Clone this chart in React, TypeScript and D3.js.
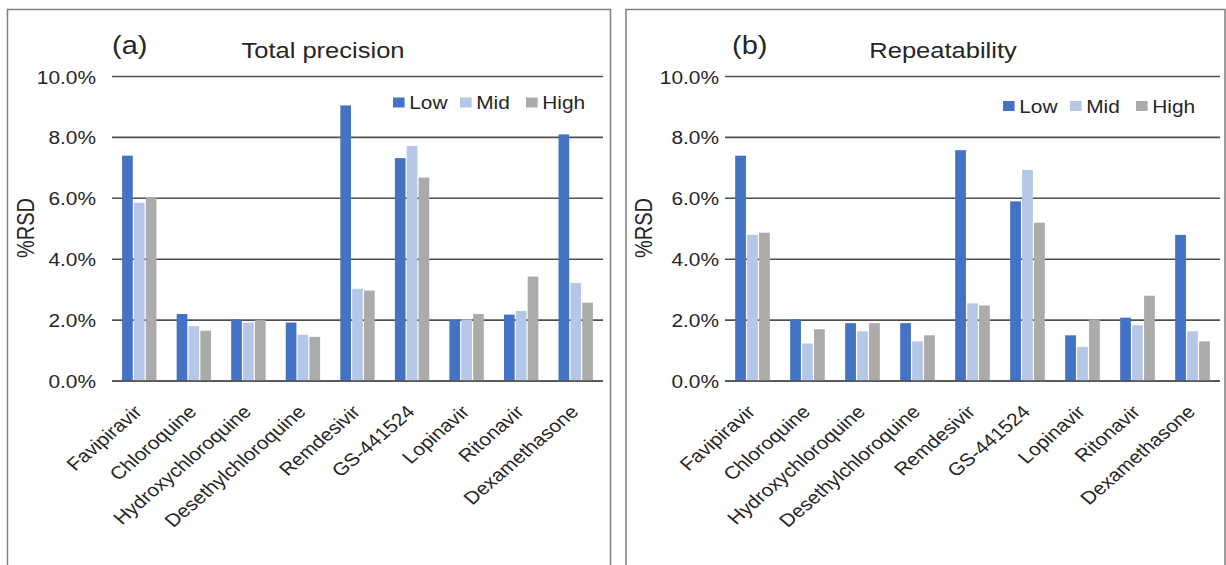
import * as d3 from "d3";

const CATEGORIES = [
  "Favipiravir",
  "Chloroquine",
  "Hydroxychloroquine",
  "Desethylchloroquine",
  "Remdesivir",
  "GS-441524",
  "Lopinavir",
  "Ritonavir",
  "Dexamethasone",
];
const SERIES = ["Low", "Mid", "High"];
const COLORS = ["#4472C4", "#B4C7E7", "#ABABAB"];

// (a) total precision, %RSD as fractions
const TOTAL_LOW = [0.074, 0.022, 0.0202, 0.0192, 0.0905, 0.0732, 0.02, 0.0218, 0.081];
const TOTAL_MID = [0.0585, 0.018, 0.0192, 0.0152, 0.0303, 0.0772, 0.0202, 0.023, 0.0322];
const TOTAL_HIGH = [0.0602, 0.0165, 0.02, 0.0145, 0.0297, 0.0668, 0.022, 0.0343, 0.0257];

// (b) repeatability
const REP_LOW = [0.074, 0.0202, 0.019, 0.019, 0.0758, 0.059, 0.015, 0.0208, 0.048];
const REP_MID = [0.048, 0.0123, 0.0163, 0.013, 0.0255, 0.0693, 0.0112, 0.0183, 0.0163];
const REP_HIGH = [0.0487, 0.017, 0.019, 0.015, 0.0248, 0.052, 0.0202, 0.028, 0.013];

const Y_TICKS = [0, 0.02, 0.04, 0.06, 0.08, 0.1];

const FONT = "'Liberation Sans', Arial, sans-serif";
const SX = 1.16; // source image is stretched horizontally
const TXT = "#262626";

type PanelProps = {
  box: [number, number];
  plot: [number, number];
  tickGap: number;
  tag: string;
  tagX: number;
  title: string;
  titleX: number;
  legendX: number;
  legendY: number;
  values: number[][];
};

function T({ x, y, anchor = "start", size, children, rotate = 0 }: any) {
  return (
    <g transform={`translate(${x},${y}) scale(${SX},1)`}>
      <text
        transform={rotate ? `rotate(${rotate})` : undefined}
        textAnchor={anchor}
        fontSize={size}
        fontFamily={FONT}
        fill={TXT}
      >
        {children}
      </text>
    </g>
  );
}

function Panel({ box, plot, tickGap, tag, tagX, title, titleX, legendX, legendY, values }: PanelProps) {
  const y = d3.scaleLinear().domain([0, 0.1]).range([381, 76.5]);
  const x0 = d3
    .scaleBand<string>()
    .domain(CATEGORIES)
    .range(plot)
    .paddingInner(0.37)
    .paddingOuter(0.185);
  const x1 = d3.scaleBand<string>().domain(SERIES).range([0, x0.bandwidth()]).paddingInner(0.1);
  const fmt = d3.format(".1%");
  const legendStep = [0, 67, 133];

  return (
    <g>
      <rect
        x={box[0]}
        y={9.5}
        width={box[1] - box[0]}
        height={600}
        fill="none"
        stroke="#7f7f7f"
        strokeWidth={1.5}
      />
      {Y_TICKS.map((t) => (
        <g key={t}>
          <line x1={plot[0]} x2={plot[1]} y1={y(t)} y2={y(t)} stroke="#505050" strokeWidth={1.6} />
          <T x={plot[0] - tickGap} y={y(t) + 7} anchor="end" size={18}>
            {fmt(t)}
          </T>
        </g>
      ))}
      {CATEGORIES.map((c, i) => (
        <g key={c} transform={`translate(${x0(c)},0)`}>
          {SERIES.map((s, j) => (
            <rect
              key={s}
              x={x1(s)}
              y={y(values[j][i])}
              width={x1.bandwidth()}
              height={y(0) - y(values[j][i])}
              fill={COLORS[j]}
            />
          ))}
        </g>
      ))}
      {/* baseline drawn over bars */}
      <line x1={plot[0]} x2={plot[1]} y1={y(0)} y2={y(0)} stroke="#505050" strokeWidth={1.6} />
      {CATEGORIES.map((c) => (
        <T
          key={c}
          x={(x0(c) ?? 0) + x0.bandwidth() / 2 + 4}
          y={y(0) + 32}
          anchor="end"
          size={18}
          rotate={-45}
        >
          {c}
        </T>
      ))}
      <g transform={`translate(${box[0] + 26},228) rotate(-90)`}>
        <text textAnchor="middle" fontSize={20} fontFamily={FONT} fill={TXT} transform={`scale(1,${SX})`}>
          %RSD
        </text>
      </g>
      <T x={tagX} y={54} size={25}>
        {tag}
      </T>
      <T x={titleX} y={58} anchor="middle" size={22}>
        {title}
      </T>
      {SERIES.map((s, j) => (
        <g key={s} transform={`translate(${legendX + legendStep[j]},${legendY}) scale(${SX},1)`}>
          <rect x={0} y={-5} width={10} height={10} fill={COLORS[j]} />
          <text x={14} y={6.5} fontSize={18} fontFamily={FONT} fill={TXT}>
            {s}
          </text>
        </g>
      ))}
    </g>
  );
}

export default function App() {
  return (
    <div style={{ position: "absolute", left: 0, top: 0 }}>
      <svg width={1226} height={565} style={{ display: "block", background: "#fff" }}>
        <Panel
          box={[7.5, 610.5]}
          plot={[112, 603]}
          tickGap={16}
          tag="(a)"
          tagX={112}
          title="Total precision"
          titleX={323}
          legendX={393}
          legendY={102.5}
          values={[TOTAL_LOW, TOTAL_MID, TOTAL_HIGH]}
        />
        <Panel
          box={[626, 1225]}
          plot={[725, 1220]}
          tickGap={6}
          tag="(b)"
          tagX={732}
          title="Repeatability"
          titleX={943}
          legendX={1003}
          legendY={106}
          values={[REP_LOW, REP_MID, REP_HIGH]}
        />
      </svg>
    </div>
  );
}
